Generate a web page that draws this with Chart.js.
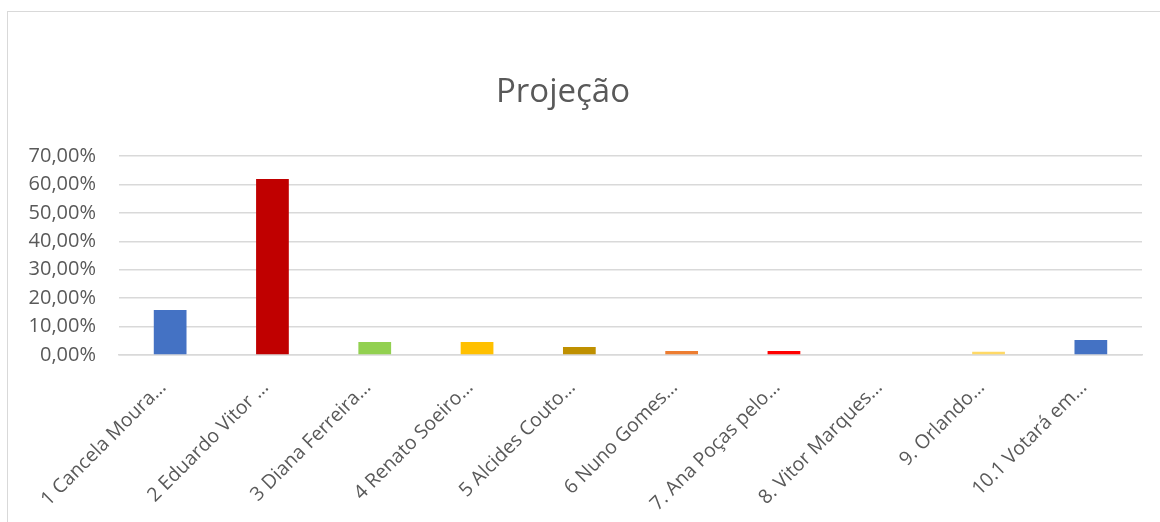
<!DOCTYPE html>
<html>
<head>
<meta charset="utf-8">
<script src="https://cdn.jsdelivr.net/npm/chart.js@4.4.1/dist/chart.umd.min.js"></script>
<style>
    html, body { margin: 0; padding: 0; background: #fff; }
    #wrap { position: relative; width: 1160px; height: 522px; overflow: hidden; }
    #frame {
        position: absolute; left: 7px; top: 11px; right: -5px; bottom: -5px;
        border-left: 1.5px solid #d9d9d9; border-top: 1.5px solid #d9d9d9;
    }
    canvas { position: absolute; left: 0; top: 0; }
</style>
</head>
<body>
<div id="wrap">
    <div id="frame"></div>
    <canvas id="projChart" width="1160" height="522"></canvas>
</div>
<script>
// dados
const titulo = "Projeção";
const candidatos = [
    "1 Cancela Moura…", "2 Eduardo Vitor …", "3 Diana Ferreira…", "4 Renato Soeiro…",
    "5 Alcides Couto…", "6 Nuno Gomes…", "7. Ana Poças pelo…", "8. Vitor Marques…",
    "9. Orlando…", "10.1 Votará em…"
];
const projecao = [15.8, 61.9, 4.6, 4.6, 2.8, 1.4, 1.4, 0, 1.1, 5.3];
const cores = ["#4472C4", "#C00000", "#92D050", "#FFC000", "#BF9000",
               "#ED7D31", "#FF0000", "#A5A5A5", "#FFD966", "#4472C4"];
const yTicks = [0, 10, 20, 30, 40, 50, 60, 70];

const fonte = "'Open Sans', sans-serif";

// título desenhado à mão — o do Chart.js fica centrado na largura toda
const tituloPlugin = {
    id: "tituloExcel",
    afterDraw(chart) {
        const ctx = chart.ctx;
        ctx.save();
        ctx.fillStyle = "#595959";
        ctx.font = "33px " + fonte;
        ctx.textAlign = "center";
        ctx.textBaseline = "alphabetic";
        ctx.fillText(titulo, 563, 102);
        ctx.restore();
    }
};

new Chart(document.getElementById("projChart").getContext("2d"), {
    type: "bar",
    data: {
        labels: candidatos,
        datasets: [{
            data: projecao,
            backgroundColor: cores,
            barPercentage: 0.32,
            categoryPercentage: 1
        }]
    },
    plugins: [tituloPlugin],
    options: {
        responsive: false,
        animation: false,
        layout: { padding: { left: 10, right: 18, top: 156, bottom: 0 } },
        plugins: {
            legend: { display: false },
            tooltip: { enabled: false },
            title: { display: false }
        },
        scales: {
            x: {
                grid: { display: false },
                border: { color: "#d9d9d9", width: 1.5 },
                ticks: {
                    color: "#595959",
                    font: { family: fonte, size: 19.5 },
                    maxRotation: 45, minRotation: 45,
                    padding: 13,
                    labelOffset: -7
                },
                afterFit: s => { s.height = 167; }
            },
            y: {
                min: 0, max: 70,
                afterBuildTicks: s => { s.ticks = yTicks.map(v => ({ value: v })); },
                grid: { color: "#d9d9d9", lineWidth: 1.5, drawTicks: false },
                border: { display: false },
                ticks: {
                    color: "#595959",
                    font: { family: fonte, size: 20 },
                    padding: 23,
                    callback: v => v.toFixed(2).replace(".", ",") + "%"
                },
                afterFit: s => { s.width = 109; }
            }
        }
    }
});
</script>
</body>
</html>
